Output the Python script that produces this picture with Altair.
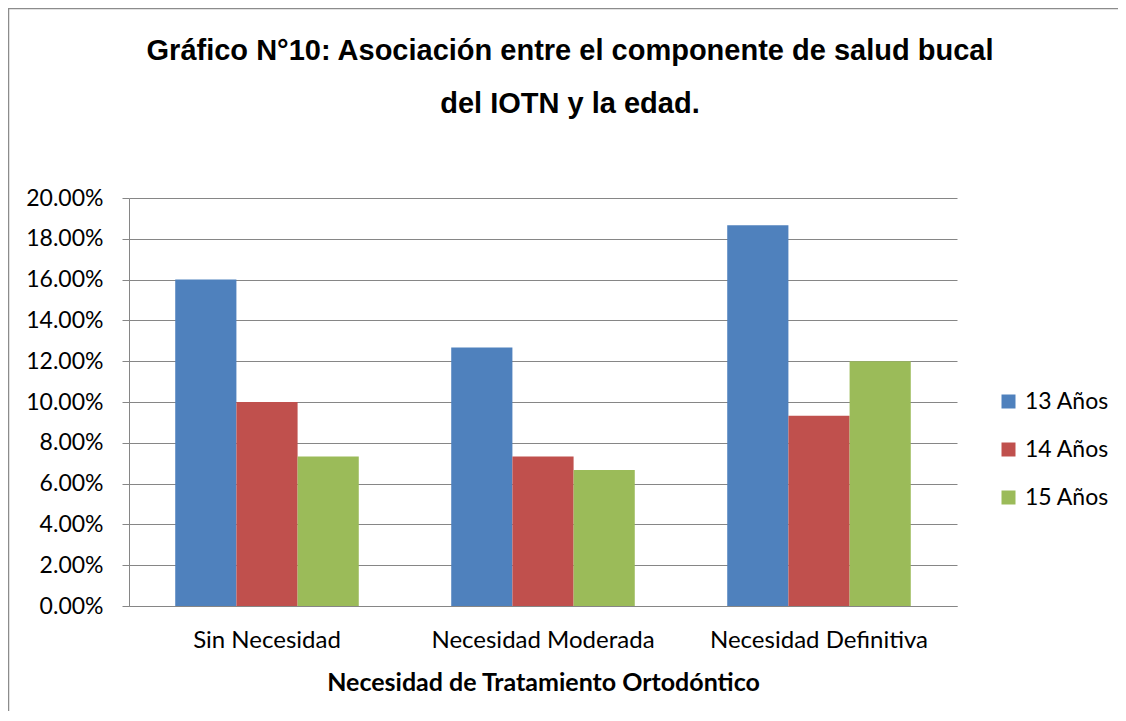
import altair as alt
import pandas as pd

categories = ["Sin Necesidad", "Necesidad Moderada", "Necesidad Definitiva"]
groups = ["13 Años", "14 Años", "15 Años"]
age13 = [0.1600, 0.1267, 0.1867]
age14 = [0.1000, 0.0733, 0.0933]
age15 = [0.0733, 0.0667, 0.1200]
colors = ["#4F81BD", "#C0504D", "#9BBB59"]
y_ticks = [0.0, 0.02, 0.04, 0.06, 0.08, 0.10, 0.12, 0.14, 0.16, 0.18, 0.20]
title_line1 = ["Gráfico N°10: Asociación entre el componente de salud bucal"]
title_line2 = ["del IOTN y la edad."]
x_title = "Necesidad de Tratamiento Ortodóntico"

rows = []
for i, c in enumerate(categories):
    for g, vals in zip(groups, [age13, age14, age15]):
        rows.append({"cat": c, "grupo": g, "valor": vals[i]})
df = pd.DataFrame(rows)

GRAY = "#868686"

bars = alt.Chart(df).mark_bar().encode(
    x=alt.X("cat:N", sort=categories,
            scale=alt.Scale(paddingInner=0.335, paddingOuter=0.1675),
            axis=alt.Axis(title=x_title, labelAngle=0, ticks=False, domain=True,
                          domainColor=GRAY, grid=False, labelFont="Lato",
                          labelFontSize=24, labelColor="black", labelPadding=22,
                          labelLimit=0,
                          titleFont="Lato", titleFontWeight="bold", titleFontSize=25,
                          titleColor="black", titlePadding=18)),
    xOffset=alt.XOffset("grupo:N", sort=groups,
                        scale=alt.Scale(paddingInner=0, paddingOuter=0)),
    y=alt.Y("valor:Q", scale=alt.Scale(domain=[0, 0.2], nice=False),
            axis=alt.Axis(values=y_ticks, format=".2%", title=None, domain=True,
                          domainColor=GRAY, tickColor=GRAY, tickSize=7, grid=True,
                          gridColor=GRAY, gridOpacity=1, labelFont="Lato",
                          labelFontSize=23, labelColor="black", labelPadding=19)),
    color=alt.Color("grupo:N", scale=alt.Scale(domain=groups, range=colors),
                    legend=alt.Legend(title=None, orient="none", legendX=868, legendY=192,
                                      symbolType="square", symbolSize=196,
                                      symbolStrokeWidth=0, labelFont="Lato",
                                      labelFontSize=23, labelColor="black",
                                      rowPadding=24, labelOffset=5)),
)

t1 = alt.Chart(pd.DataFrame({"t": title_line1})).mark_text(
    font="Liberation Sans", fontWeight="bold", fontSize=29, color="black",
    align="center", baseline="alphabetic"
).encode(text="t:N", x=alt.value(441), y=alt.value(-138))

t2 = alt.Chart(pd.DataFrame({"t": title_line2})).mark_text(
    font="Liberation Sans", fontWeight="bold", fontSize=29, color="black",
    align="center", baseline="alphabetic"
).encode(text="t:N", x=alt.value(441), y=alt.value(-85))

border_df = pd.DataFrame({"a": [0]})
left_edge = alt.Chart(border_df).mark_rule(color="#8c8c8c", strokeWidth=1.5).encode(
    x=alt.value(-120.5), y=alt.value(-190), y2=alt.value(520))
top_edge = alt.Chart(border_df).mark_rule(color="#8c8c8c", strokeWidth=1.5).encode(
    x=alt.value(-121), x2=alt.value(989), y=alt.value(-189.5))

chart = alt.layer(bars, t1, t2, left_edge, top_edge).properties(
    width=828, height=408,
    autosize=alt.AutoSizeParams(type="none"),
    padding={"left": 121, "top": 190, "right": 161, "bottom": 105},
    background="white",
).configure_view(stroke=None)

chart.save("out.html", embed_options={"renderer": "svg", "actions": False})
